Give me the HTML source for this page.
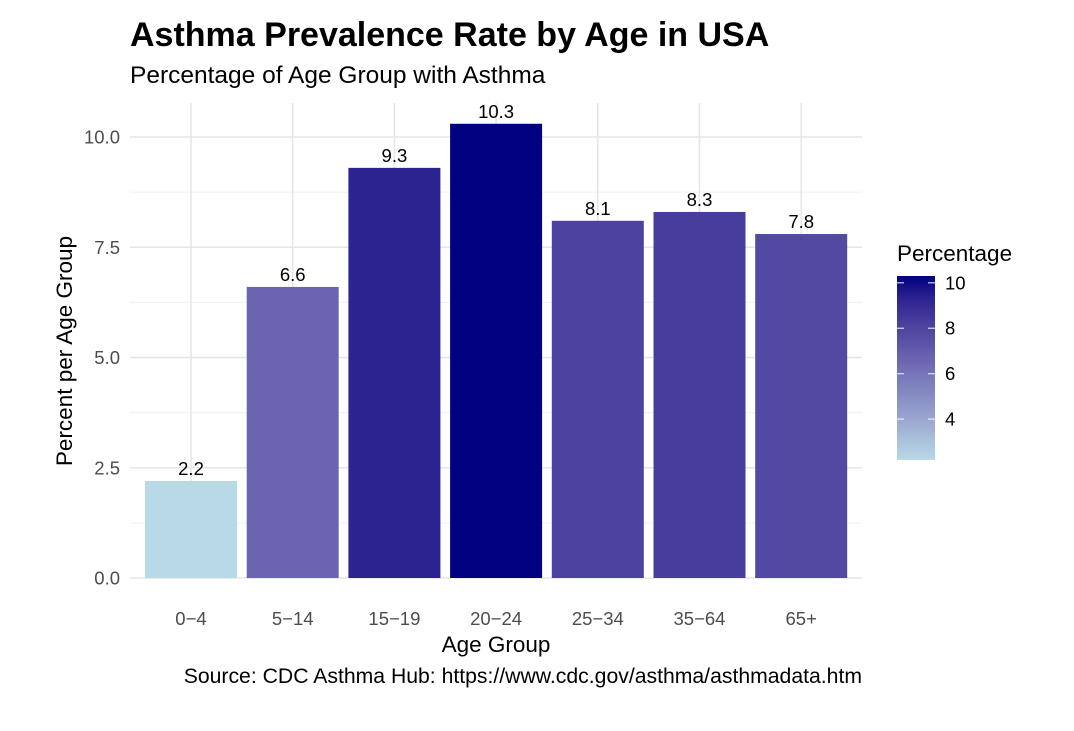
<!DOCTYPE html>
<html><head><meta charset="utf-8"><style>
body{margin:0;background:#fff;font-family:"Liberation Sans",sans-serif;}
svg text{font-family:"Liberation Sans",sans-serif;}
</style></head><body>
<svg id="c" width="1074" height="726" viewBox="0 0 1074 726">
<text x="130" y="46" font-size="34" font-weight="bold" fill="#000">Asthma Prevalence Rate by Age in USA</text>
<text x="130" y="83" font-size="24.5" fill="#000">Percentage of Age Group with Asthma</text>
<g id="grid"></g><g id="bars"></g><g id="axes"></g>
<text x="496" y="652" font-size="22.5" text-anchor="middle" fill="#000">Age Group</text>
<text transform="translate(72,351) rotate(-90)" font-size="22.5" text-anchor="middle" fill="#000">Percent per Age Group</text>
<text x="862" y="683" font-size="21.2" text-anchor="end" fill="#000">Source: CDC Asthma Hub: https://www.cdc.gov/asthma/asthmadata.htm</text>
<text x="897" y="261" font-size="22.5" fill="#000">Percentage</text>
<defs><linearGradient id="lg" x1="0" y1="1" x2="0" y2="0"></linearGradient></defs>
<rect x="897" y="276" width="38" height="184" fill="url(#lg)"/>
<g id="legend"></g>
</svg>
<script>
const categories=["0-4","5-14","15-19","20-24","25-34","35-64","65+"];
const values=[2.2,6.6,9.3,10.3,8.1,8.3,7.8];
const yTicks=[0,2.5,5,7.5,10];
const yTickLabels=["0.0","2.5","5.0","7.5","10.0"];
const legendTicks=[4,6,8,10];

const NS="http://www.w3.org/2000/svg";
const L=130,R=862,Y0=578,PU=44.1,T=103;
const y=v=>Y0-v*PU;
const step=101.7;
const x=i=>191+step*i;
const vmin=Math.min(...values),vmax=Math.max(...values);
const stops=[[0,[184,217,230]],[0.25,[150,160,205]],[0.55,[106,100,176]],[0.75,[72,62,157]],[0.88,[44,34,144]],[1,[0,0,128]]];
function col(v){let t=(v-vmin)/(vmax-vmin);t=Math.max(0,Math.min(1,t));
 for(let k=1;k<stops.length;k++){if(t<=stops[k][0]){const a=stops[k-1],b=stops[k],f=(t-a[0])/(b[0]-a[0]);
 return "rgb("+a[1].map((c,j)=>Math.round(c+(b[1][j]-c)*f)).join(",")+")";}}return "rgb(0,0,128)";}
function mk(tag,at,parent){const e=document.createElementNS(NS,tag);for(const k in at)e.setAttribute(k,at[k]);document.getElementById(parent).appendChild(e);return e;}
for(let v=1.25;v<=10.5;v+=2.5){const g=mk("line",{x1:L,x2:R,y1:y(v),y2:y(v),stroke:"#f0f0f0","stroke-width":1},"grid");

}
yTicks.forEach((v,i)=>{const g=mk("line",{x1:L,x2:R,y1:y(v),y2:y(v),stroke:"#e6e6e6","stroke-width":1.5},"grid");


const t=mk("text",{x:120,y:y(v)+6.5,"font-size":18.5,"text-anchor":"end",fill:"#4d4d4d"},"axes");t.textContent=yTickLabels[i];

});
categories.forEach((c,i)=>{const g=mk("line",{x1:x(i),x2:x(i),y1:T,y2:Y0,stroke:"#e6e6e6","stroke-width":1.5},"grid");


const t=mk("text",{x:x(i),y:625,"font-size":18.5,"text-anchor":"middle",fill:"#4d4d4d"},"axes");t.textContent=c.replace("-","\u2212");

});
const bw=92;
values.forEach((v,i)=>{const b=mk("rect",{x:x(i)-bw/2,y:y(v),width:bw,height:v*PU,fill:col(v)},"bars");


const t=mk("text",{x:x(i),y:y(v)-6,"font-size":18.5,"text-anchor":"middle",fill:"#000"},"bars");t.textContent=v.toFixed(1);

});
const lg=document.getElementById("lg");
stops.forEach(s=>{const st=document.createElementNS(NS,"stop");st.setAttribute("offset",s[0]);st.setAttribute("stop-color","rgb("+s[1].join(",")+")");lg.appendChild(st);});
const ly=v=>460-(v-vmin)/(vmax-vmin)*184;
legendTicks.forEach(v=>{[[897,904],[928,935]].forEach(p=>{const l=mk("line",{x1:p[0],x2:p[1],y1:ly(v),y2:ly(v),stroke:"#fff","stroke-width":1.2,opacity:0.8},"legend");

});
const t=mk("text",{x:945,y:ly(v)+6.5,"font-size":18.5,fill:"#000"},"legend");t.textContent=v;

});
</script>
</body></html>
